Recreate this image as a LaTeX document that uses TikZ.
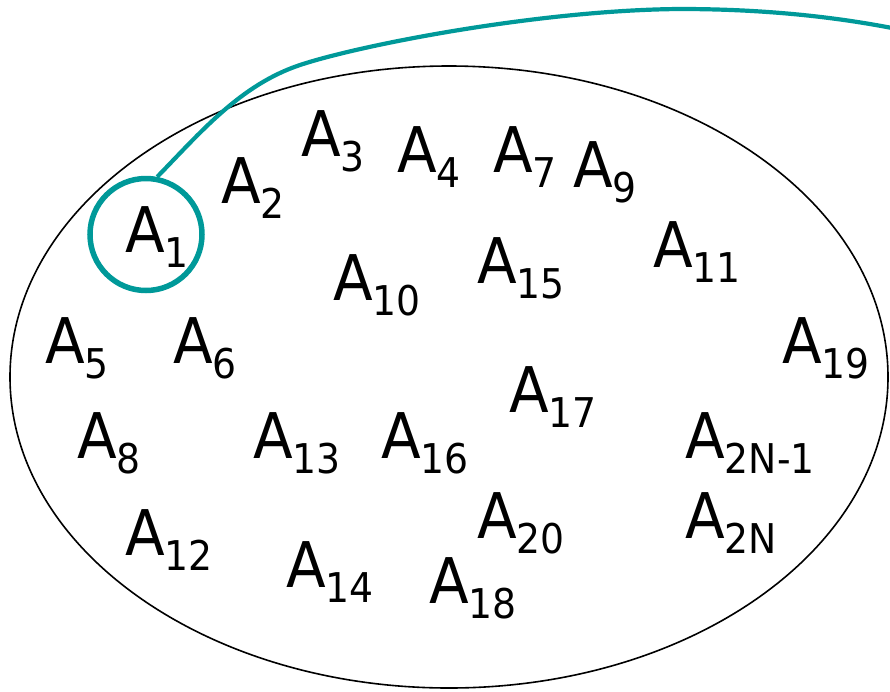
\documentclass[tikz,border=0pt]{standalone}
\usepackage{fontspec}
\setmainfont{DejaVu Sans}[FakeStretch=0.92]
\usepackage{xcolor}
\usepackage{tikz}
\usetikzlibrary{positioning}

\definecolor{ringteal}{RGB}{0,153,153}
\newcommand{\elem}[1]{A\raisebox{-15pt}{\fontsize{41}{41}\selectfont #1}}

\begin{document}
\begin{tikzpicture}[
  x=1pt, y=-1pt,
  elem/.style={anchor=base west, inner sep=0pt,
               font=\fontsize{63}{63}\selectfont},
  ring/.style={circle, draw=ringteal, line width=5.5pt,
               minimum size=112pt, inner sep=0pt},
  link/.style={draw=ringteal, line width=4.2pt}
]
\useasboundingbox (0,0) rectangle (890,691);

% ---- Set boundary ----
\draw[line width=1.6pt] (449,377) ellipse [x radius=439, y radius=311];

% ---- Top rows ----
\node[elem] (a1)  at (125,252) {\elem{1}};
\node[elem] (a2)  at (221,203) {\elem{2}};
\node[elem] (a3)  at (301,156) {\elem{3}};
\node[elem] (a4)  at (397,172) {\elem{4}};
\node[elem] (a7)  at (493,172) {\elem{7}};
\node[elem] (a9)  at (573,187) {\elem{9}};
\node[elem] (a10) at (333,300) {\elem{10}};
\node[elem] (a15) at (477,283) {\elem{15}};
\node[elem] (a11) at (653,267) {\elem{11}};

% ---- Middle rows ----
\node[elem] (a5)  at (45,363)  {\elem{5}};
\node[elem] (a6)  at (173,363) {\elem{6}};
\node[elem] (a19) at (782,363) {\elem{19}};
\node[elem] (a17) at (509,412) {\elem{17}};
\node[elem] (a8)  at (77,458)  {\elem{8}};
\node[elem] (a13) at (253,458) {\elem{13}};
\node[elem] (a16) at (381,458) {\elem{16}};
\node[elem] (a2n1) at (685,458) {\elem{2N-1}};

% ---- Bottom rows ----
\node[elem] (a20) at (477,538) {\elem{20}};
\node[elem] (a2n) at (685,538) {\elem{2N}};
\node[elem] (a12) at (125,555) {\elem{12}};
\node[elem] (a14) at (286,587) {\elem{14}};
\node[elem] (a18) at (429,603) {\elem{18}};

% ---- Highlight ring round A1 ----
\node[ring] (hl) at (146,234.5) {};

% ---- Link leaving the picture ----
\coordinate (out) at (892,28);
\draw[link] (hl.79)
  .. controls (200,133) and (240,85) .. (300,65)
  .. controls (360,45) and (540,10) .. (680,9)
  .. controls (770,9) and (840,18) .. (out);

\end{tikzpicture}
\end{document}
